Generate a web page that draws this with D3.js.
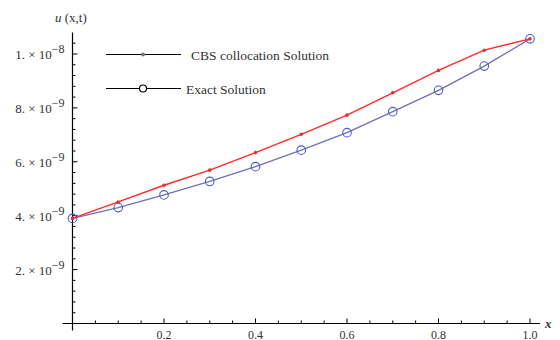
<!DOCTYPE html>
<html>
<head>
<meta charset="utf-8">
<script src="https://cdn.jsdelivr.net/npm/d3@7"></script>
<style>
  body { margin: 0; background: #fff; }
  text { font-family: "Liberation Serif", "DejaVu Serif", serif; fill: #333; }
</style>
</head>
<body>
<svg id="chart"></svg>
<script>
// data
var xs = [0, 0.1, 0.2, 0.3, 0.4, 0.5, 0.6, 0.7, 0.8, 0.9, 1.0];
var cbsValues = [3.90e-9, 4.51e-9, 5.13e-9, 5.69e-9, 6.34e-9, 7.02e-9, 7.73e-9, 8.56e-9, 9.39e-9, 10.14e-9, 10.56e-9];
var exactValues = [3.90e-9, 4.30e-9, 4.77e-9, 5.27e-9, 5.82e-9, 6.43e-9, 7.08e-9, 7.86e-9, 8.65e-9, 9.55e-9, 10.56e-9];
var xTicks = [0.2, 0.4, 0.6, 0.8, 1.0];
var xTickLabels = ["0.2", "0.4", "0.6", "0.8", "1.0"];
var yTicks = [2e-9, 4e-9, 6e-9, 8e-9, 1e-8];
var yMantissa = ["2.", "4.", "6.", "8.", "1."];
var yExponent = ["\u22129", "\u22129", "\u22129", "\u22129", "\u22128"];
var legendNames = ["CBS collocation Solution", "Exact Solution"];

var size = { width: 560, height: 340 };

var x = d3.scaleLinear().domain([0, 1]).range([72.5, 530]);
var y = d3.scaleLinear().domain([0, 1.08e-8]).range([323.5, 32.4]);

var svg = d3.select("#chart")
  .attr("width", size.width)
  .attr("height", size.height);

// 軸
var axisColor = "#000";
svg.append("line")
  .attr("x1", x(0) - 10).attr("x2", x(1) + 10)
  .attr("y1", y(0)).attr("y2", y(0))
  .attr("stroke", axisColor).attr("stroke-width", 1.2);
svg.append("line")
  .attr("x1", x(0)).attr("x2", x(0))
  .attr("y1", y(1.08e-8)).attr("y2", y(0) + 7)
  .attr("stroke", axisColor).attr("stroke-width", 1.2);

// x ticks (minor every 0.05)
var xMinor = d3.range(1, 21).map(function(i){ return i * 0.05; });
svg.selectAll(".xtick")
  .data(xMinor)
  .enter().append("line")
  .attr("x1", function(d){ return x(d); })
  .attr("x2", function(d){ return x(d); })
  .attr("y1", y(0))
  .attr("y2", function(d, i){ return (i % 4 == 3) ? y(0) - 5 : y(0) - 3; })
  .attr("stroke", axisColor).attr("stroke-width", 1);

svg.selectAll(".xlabel")
  .data(xTicks)
  .enter().append("text")
  .attr("x", function(d){ return x(d); })
  .attr("y", 338.5)
  .attr("text-anchor", "middle")
  .attr("font-size", 12)
  .text(function(d, i){ return xTickLabels[i]; });

// y ticks (minor every 0.4e-9)
var yMinor = d3.range(1, 27).map(function(i){ return i * 0.4e-9; });
svg.selectAll(".ytick")
  .data(yMinor)
  .enter().append("line")
  .attr("x1", x(0))
  .attr("x2", function(d, i){ return (i % 5 == 4) ? x(0) + 5 : x(0) + 3; })
  .attr("y1", function(d){ return y(d); })
  .attr("y2", function(d){ return y(d); })
  .attr("stroke", axisColor).attr("stroke-width", 1);

var ylab = svg.selectAll(".ylabel")
  .data(yTicks)
  .enter().append("text")
  .attr("x", x(0) - 8)
  .attr("y", function(d){ return y(d) + 5; })
  .attr("text-anchor", "end")
  .attr("font-size", 13);
ylab.append("tspan").text(function(d, i){ return yMantissa[i] + " \u00d7 10"; });
ylab.append("tspan")
  .attr("dy", -6)
  .attr("font-size", 12)
  .text(function(d, i){ return yExponent[i]; });

// axis titles
var ut = svg.append("text")
  .attr("x", 55).attr("y", 22)
  .attr("font-size", 13);
ut.append("tspan").attr("font-style", "italic").text("u");
ut.append("tspan").text(" (x,t)");

svg.append("text")
  .attr("x", 545).attr("y", y(0) + 4)
  .attr("font-size", 13)
  .attr("font-style", "italic")
  .attr("font-weight", "bold")
  .text("x");

// 描画
var line = d3.line()
  .x(function(d){ return x(d[0]); })
  .y(function(d){ return y(d[1]); });

var exactData = xs.map(function(v, i){ return [v, exactValues[i]]; });
var cbsData = xs.map(function(v, i){ return [v, cbsValues[i]]; });

svg.append("path")
  .datum(exactData)
  .attr("d", line)
  .attr("fill", "none")
  .attr("stroke", "#7070b8")
  .attr("stroke-width", 1.4);

svg.append("path")
  .datum(cbsData)
  .attr("d", line)
  .attr("fill", "none")
  .attr("stroke", "#ff2a2a")
  .attr("stroke-width", 1.4);

svg.selectAll(".exactpt")
  .data(exactData)
  .enter().append("circle")
  .attr("cx", function(d){ return x(d[0]); })
  .attr("cy", function(d){ return y(d[1]); })
  .attr("r", 4.3)
  .attr("fill", "none")
  .attr("stroke", "#4a5cc8")
  .attr("stroke-width", 1.1);

svg.selectAll(".cbspt")
  .data(cbsData)
  .enter().append("circle")
  .attr("cx", function(d){ return x(d[0]); })
  .attr("cy", function(d){ return y(d[1]); })
  .attr("r", 1.8)
  .attr("fill", "#e83030");

// legend
var legY = [54.5, 88.5];
svg.selectAll(".legline")
  .data(legY)
  .enter().append("line")
  .attr("x1", 106).attr("x2", 181)
  .attr("y1", function(d){ return d; })
  .attr("y2", function(d){ return d; })
  .attr("stroke", "#000").attr("stroke-width", 1.2);

svg.append("circle")
  .attr("cx", 143).attr("cy", legY[0]).attr("r", 2)
  .attr("fill", "#777");
svg.append("circle")
  .attr("cx", 143).attr("cy", legY[1]).attr("r", 3.5)
  .attr("fill", "#fff").attr("stroke", "#000").attr("stroke-width", 1.2);

svg.selectAll(".legtext")
  .data(legendNames)
  .enter().append("text")
  .attr("x", function(d, i){ return i == 0 ? 191 : 186; })
  .attr("y", function(d, i){ return legY[i] + 5; })
  .attr("font-size", 13.5)
  .text(function(d){ return d; });
</script>
</body>
</html>
